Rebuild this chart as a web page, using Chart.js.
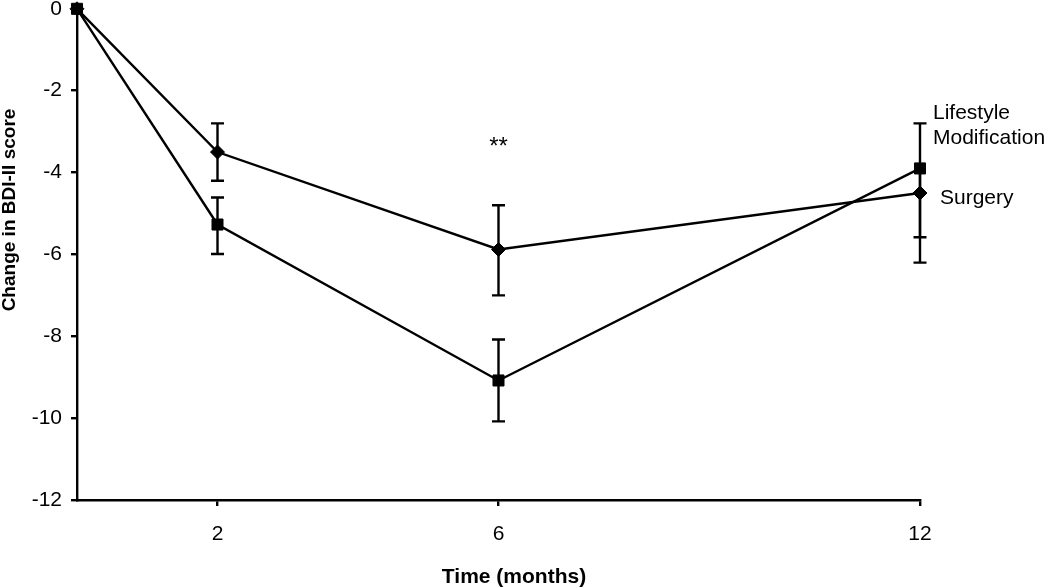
<!DOCTYPE html>
<html>
<head>
<meta charset="utf-8">
<script src="https://cdn.jsdelivr.net/npm/chart.js@4.4.1/dist/chart.umd.min.js"></script>
<style>
  body { margin: 0; background: #fff; }
  #wrap { width: 1050px; height: 588px; position: relative; }
</style>
</head>
<body>
<div id="wrap"><canvas id="chart"></canvas></div>
<script>
// time points (months)
const months = [0, 2, 6, 12];
const xTickValues = [2, 6, 12];

// mean change in BDI-II score
const lifestyle = [0, -5.27, -9.08, -3.9];
const surgery = [0, -3.5, -5.88, -4.5];

// error bar lengths (up / down)
const lifestyleErrUp = [0, 0.66, 1.0, 0];
const lifestyleErrDown = [0, 0.72, 1.0, 1.68];
const surgeryErrUp = [0, 0.7, 1.08, 1.7];
const surgeryErrDown = [0, 0.7, 1.12, 1.7];

const FONT = "'Liberation Sans', Arial, sans-serif";

const errorBars = {
    id: "errorBars",
    beforeDatasetsDraw(chart) {
        const ctx = chart.ctx;
        const y = chart.scales.y;
        ctx.save();
        ctx.strokeStyle = "#000";
        ctx.lineWidth = 2.4;
        chart.data.datasets.forEach((ds, i) => {
            const meta = chart.getDatasetMeta(i);
            meta.data.forEach((pt, j) => {
                const up = ds.errUp[j], down = ds.errDown[j];
                if (!up && !down) return;
                const v = ds.data[j].y;
                const yTop = y.getPixelForValue(v + up);
                const yBot = y.getPixelForValue(v - down);
                ctx.beginPath();
                ctx.moveTo(pt.x, yTop);
                ctx.lineTo(pt.x, yBot);
                if (up) { ctx.moveTo(pt.x - 6.5, yTop); ctx.lineTo(pt.x + 6.5, yTop); }
                if (down) { ctx.moveTo(pt.x - 6.5, yBot); ctx.lineTo(pt.x + 6.5, yBot); }
                ctx.stroke();
            });
        });
        ctx.restore();
    }
};

const labels = {
    id: "labels",
    afterDraw(chart) {
        const ctx = chart.ctx;
        const x = chart.scales.x;
        ctx.save();
        ctx.fillStyle = "#000";
        ctx.textBaseline = "middle";

        // series labels
        ctx.font = "21px " + FONT;
        ctx.textAlign = "left";
        ctx.fillText("Lifestyle", 933, 113);
        ctx.fillText("Modification", 933, 138);
        ctx.fillText("Surgery", 940, 198);

        // significance
        ctx.textAlign = "center";
        ctx.font = "24px " + FONT;
        ctx.fillText("**", x.getPixelForValue(6), 147);

        // axis titles
        ctx.font = "bold 21px " + FONT;
        ctx.fillText("Time (months)", 514, 577);
        ctx.translate(10, 210);
        ctx.rotate(-Math.PI / 2);
        ctx.font = "bold 19px " + FONT;
        ctx.fillText("Change in BDI-II score", 0, 0);
        ctx.restore();
    }
};

new Chart(document.getElementById("chart"), {
    type: "line",
    data: {
        datasets: [{
            label: "Lifestyle Modification",
            data: months.map((m, i) => ({ x: m, y: lifestyle[i] })),
            errUp: lifestyleErrUp,
            errDown: lifestyleErrDown,
            borderColor: "#000",
            borderWidth: 2.4,
            pointStyle: "rect",
            pointRadius: 7.8,
            pointBackgroundColor: "#000",
            pointBorderColor: "#000",
            pointBorderWidth: 1,
            tension: 0,
            clip: false
        }, {
            label: "Surgery",
            data: months.map((m, i) => ({ x: m, y: surgery[i] })),
            errUp: surgeryErrUp,
            errDown: surgeryErrDown,
            borderColor: "#000",
            borderWidth: 2.4,
            pointStyle: "rectRot",
            pointRadius: 7,
            pointBackgroundColor: "#000",
            pointBorderColor: "#000",
            pointBorderWidth: 1,
            tension: 0,
            clip: false
        }]
    },
    options: {
        responsive: true,
        maintainAspectRatio: false,
        animation: false,
        layout: { padding: { left: 0, right: 130, top: 8, bottom: 0 } },
        plugins: {
            legend: { display: false },
            tooltip: { enabled: false }
        },
        scales: {
            x: {
                type: "linear",
                min: 0,
                max: 12,
                afterBuildTicks: s => { s.ticks = xTickValues.map(v => ({ value: v })); },
                afterFit: s => { s.height = 88; s.paddingLeft = 0; s.paddingRight = 0; },
                ticks: { color: "#000", font: { family: FONT, size: 21 }, padding: 16, maxRotation: 0 },
                grid: { drawOnChartArea: false, color: "#000", lineWidth: 2.4, tickLength: 6 },
                border: { color: "#000", width: 2.4 }
            },
            y: {
                min: -12,
                max: 0,
                ticks: { stepSize: 2, color: "#000", font: { family: FONT, size: 21 }, padding: 9 },
                afterFit: s => { s.width = 77; s.paddingTop = 0; s.paddingBottom = 0; },
                grid: { drawOnChartArea: false, color: "#000", lineWidth: 2.4, tickLength: 6 },
                border: { color: "#000", width: 2.4 }
            }
        }
    },
    plugins: [errorBars, labels]
});
</script>
</body>
</html>
